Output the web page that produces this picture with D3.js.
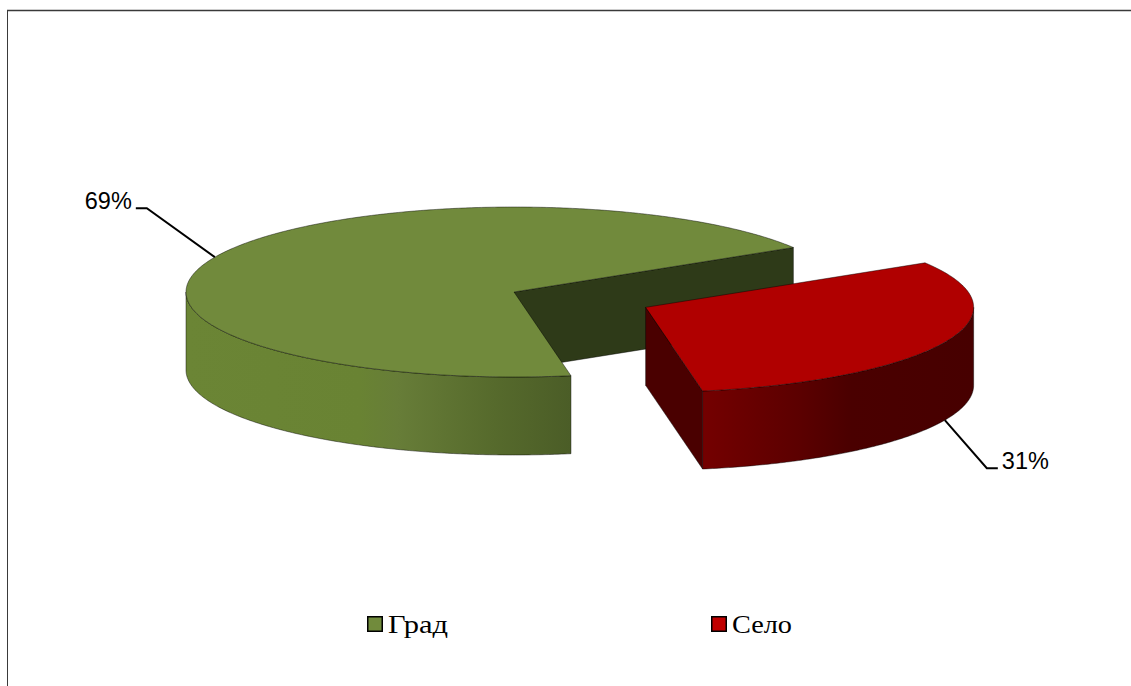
<!DOCTYPE html>
<html>
<head>
<meta charset="utf-8">
<script src="https://cdn.jsdelivr.net/npm/d3@7"></script>
<style>
  html, body { margin: 0; padding: 0; background: #fff; }
  svg { display: block; }
</style>
</head>
<body>
<svg id="chart" width="1131" height="686"></svg>
<script>
// Share of respondents by place of residence
const categories = ["Град", "Село"];
const values = [69, 31];
const valueLabels = ["69%", "31%"];

// Presentation settings
const palette = {
  top:    ["#718a3c", "#b00000"],
  cut:    ["#2e3a18", "#4a0000"],
  legend: ["#718b3c", "#c00000"]
};
const sideStops = [
  [[0, "#6b8535"], [0.45, "#698333"], [0.55, "#677d38"], [0.8, "#566a2c"], [1, "#4b5d27"]],
  [[0, "#740000"], [0.35, "#5c0000"], [0.55, "#4a0000"], [1, "#470000"]]
];
const exploded = [0, 0.44];          // radial offset as a share of the radius
const leaderVec = [[-68, -49], [42, 48]];

const W = 1131, H = 686;
const cx = 514, cy = 292, rx = 328, ry = 85, depth = 78;

const svg = d3.select("#chart");

// chart frame (top and left edges)
svg.append("line").attr("x1", 7).attr("x2", W).attr("y1", 10.5).attr("y2", 10.5)
  .attr("stroke", "#3a3a3a").attr("stroke-width", 1.6);
svg.append("line").attr("x1", 7.5).attr("x2", 7.5).attr("y1", 10).attr("y2", H)
  .attr("stroke", "#3a3a3a").attr("stroke-width", 1);

// d3.pie angles run clockwise from 12 o'clock; convert to screen angle from +x
const startDeg = 170.0;
const pie = d3.pie().sort(null)
  .startAngle(startDeg * Math.PI / 180)
  .endAngle(startDeg * Math.PI / 180 + 2 * Math.PI);
const arcs = pie(values).map((d, i) => {
  const a0 = d.startAngle - Math.PI / 2;
  const a1 = d.endAngle - Math.PI / 2;
  const mid = (a0 + a1) / 2;
  const e = exploded[i];
  return {
    i, a0, a1, mid,
    ox: cx + e * rx * Math.cos(mid),
    oy: cy + e * ry * Math.sin(mid)
  };
});

function rim(s, t, z = 0) {
  return [s.ox + rx * Math.cos(t), s.oy + ry * Math.sin(t) + z];
}
function arcPts(s, t0, t1, z = 0) {
  const n = Math.max(2, Math.ceil(Math.abs(t1 - t0) / 0.01));
  return d3.range(n + 1).map(k => rim(s, t0 + (t1 - t0) * k / n, z));
}
const line = d3.line();

const defs = svg.append("defs");
const g = svg.append("g");

function sideGradient(i, x0, x1) {
  const id = "side" + i;
  const lg = defs.append("linearGradient").attr("id", id)
    .attr("gradientUnits", "userSpaceOnUse")
    .attr("x1", x0).attr("x2", x1).attr("y1", 0).attr("y2", 0);
  sideStops[i].forEach(([o, c]) => lg.append("stop").attr("offset", o).attr("stop-color", c));
  return "url(#" + id + ")";
}

const edge = { stroke: "#000", "stroke-opacity": 0.55, "stroke-width": 0.8, "stroke-linejoin": "round" };
function styled(sel) {
  Object.entries(edge).forEach(([k, v]) => sel.attr(k, v));
  return sel;
}

arcs.forEach(s => {
  const sg = g.append("g");
  const c = [s.ox, s.oy];

  // cut faces: visible only when they turn towards the viewer
  if (Math.cos(s.a1) > 0) {
    const p = rim(s, s.a1), pb = rim(s, s.a1, depth);
    styled(sg.append("path").attr("d", line([c, p, pb, [s.ox, s.oy + depth]]) + "Z")
      .attr("fill", palette.cut[s.i]));
  }
  if (Math.cos(s.a0) < 0) {
    const p = rim(s, s.a0), pb = rim(s, s.a0, depth);
    styled(sg.append("path").attr("d", line([c, p, pb, [s.ox, s.oy + depth]]) + "Z")
      .attr("fill", palette.cut[s.i]));
  }

  // outer wall: only the front half of the ellipse (0..π) is visible
  for (let k = -1; k <= 1; k++) {
    const lo = Math.max(s.a0, k * 2 * Math.PI);
    const hi = Math.min(s.a1, k * 2 * Math.PI + Math.PI);
    if (hi > lo) {
      const topPts = arcPts(s, lo, hi);
      const botPts = arcPts(s, hi, lo, depth);
      const xs = topPts.map(p => p[0]);
      const fill = sideGradient(s.i, d3.min(xs), d3.max(xs));
      styled(sg.append("path").attr("d", line(topPts.concat(botPts)) + "Z").attr("fill", fill));
    }
  }

  // top face
  styled(sg.append("path")
    .attr("d", line([c].concat(arcPts(s, s.a0, s.a1))) + "Z")
    .attr("fill", palette.top[s.i]));
});

// value labels with leader lines
arcs.forEach(s => {
  const front = Math.sin(s.mid) > 0;
  const p = rim(s, s.mid, front ? depth : 0);
  const v = leaderVec[s.i];
  const elbow = [p[0] + v[0], p[1] + v[1]];
  const dir = v[0] < 0 ? -1 : 1;
  const end = [elbow[0] + dir * 11, elbow[1]];
  svg.append("path").attr("d", line([p, elbow, end]))
    .attr("fill", "none").attr("stroke", "#000").attr("stroke-width", 2);
  svg.append("text")
    .attr("x", end[0] + dir * 4).attr("y", end[1] + 1)
    .attr("text-anchor", dir < 0 ? "end" : "start")
    .attr("font-family", "'Liberation Sans', Arial, sans-serif")
    .attr("font-size", 23.5).attr("fill", "#000")
    .text(valueLabels[s.i]);
});

// legend
const lx = d3.scalePoint().domain(categories).range([367, 711]);
const leg = svg.append("g");
categories.forEach((name, i) => {
  const x = lx(name);
  leg.append("rect").attr("x", x + 0.75).attr("y", 616.75).attr("width", 14.5).attr("height", 14.5)
    .attr("fill", palette.legend[i]).attr("stroke", "#000").attr("stroke-width", 1.5);
  leg.append("text").attr("x", x + 21).attr("y", 632.5)
    .attr("font-family", "'Liberation Serif', 'Times New Roman', serif")
    .attr("font-size", 25).attr("fill", "#000")
    .attr("textLength", 60).attr("lengthAdjust", "spacingAndGlyphs")
    .text(name);
});
</script>
</body>
</html>
